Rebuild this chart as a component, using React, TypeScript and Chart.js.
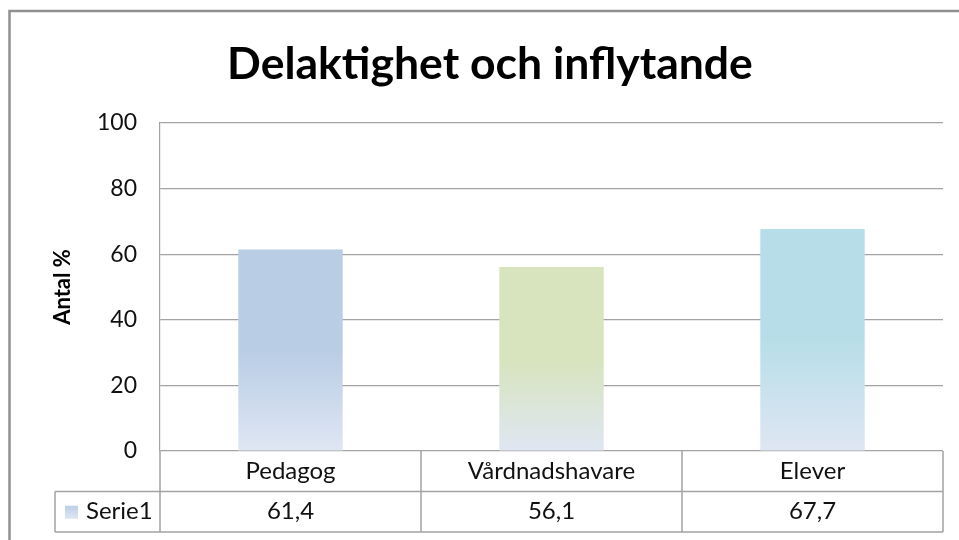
import React, { useEffect, useRef } from "react";
import { Chart, registerables } from "chart.js";

Chart.register(...registerables);

const TITLE = "Delaktighet och inflytande";
const Y_TITLE = "Antal %";
const SERIES_NAME = "Serie1";
const categories = ["Pedagog", "Vårdnadshavare", "Elever"];
const values = [61.4, 56.1, 67.7];
const yTicks = [0, 20, 40, 60, 80, 100];
const topColors = ["#B9CDE5", "#D7E4BD", "#B7DEE8"];
const bottomColor = "#DFE6F3";

const FONT = "Lato, 'Open Sans', sans-serif";
const GRID = "#a3a3a3";

const fmt = (v: number) => v.toFixed(1).replace(".", ",");

const tablePlugin = {
  id: "dataTable",
  beforeDraw(chart: any) {
    const ctx = chart.ctx;
    ctx.save();
    ctx.fillStyle = "#ffffff";
    ctx.fillRect(0, 0, chart.width, chart.height);
    ctx.strokeStyle = "#909090";
    ctx.lineWidth = 2.5;
    ctx.beginPath();
    ctx.moveTo(9.5, chart.height + 2);
    ctx.lineTo(9.5, 11);
    ctx.lineTo(chart.width + 2, 11);
    ctx.stroke();
    ctx.restore();
  },
  afterDraw(chart: any) {
    const ctx = chart.ctx;
    const area = chart.chartArea;
    const xs = chart.scales.x;
    const n = categories.length;
    const step = n > 1 ? xs.getPixelForValue(1) - xs.getPixelForValue(0) : area.right - area.left;
    const rowH = 40.5;
    const y0 = area.bottom;
    const y1 = y0 + rowH;
    const y2 = y1 + rowH;
    const legendLeft = 55;

    ctx.save();
    ctx.strokeStyle = GRID;
    ctx.lineWidth = 1.5;
    ctx.beginPath();
    ctx.moveTo(legendLeft, y1);
    ctx.lineTo(area.right, y1);
    ctx.moveTo(legendLeft, y2);
    ctx.lineTo(area.right, y2);
    ctx.moveTo(legendLeft, y1);
    ctx.lineTo(legendLeft, y2);
    ctx.moveTo(area.left, y0);
    ctx.lineTo(area.left, y2);
    for (let i = 0; i < n; i++) {
      const xr = xs.getPixelForValue(i) + step / 2;
      ctx.moveTo(xr, y0);
      ctx.lineTo(xr, y2);
    }
    ctx.stroke();

    ctx.fillStyle = "#111";
    ctx.font = `24px ${FONT}`;
    ctx.textAlign = "center";
    ctx.textBaseline = "middle";
    for (let i = 0; i < n; i++) {
      const cx = xs.getPixelForValue(i);
      ctx.fillText(categories[i], cx, (y0 + y1) / 2);
      ctx.fillText(fmt(values[i]), cx, (y1 + y2) / 2);
    }
    const ky = (y1 + y2) / 2;
    const g = ctx.createLinearGradient(0, ky - 7, 0, ky + 7);
    g.addColorStop(0, topColors[0]);
    g.addColorStop(1, bottomColor);
    ctx.fillStyle = g;
    ctx.fillRect(65, ky - 6, 13, 13);
    ctx.fillStyle = "#111";
    ctx.textAlign = "left";
    ctx.fillText(SERIES_NAME, 86, ky);
    ctx.restore();
  },
};

export default function App() {
  const ref = useRef<HTMLCanvasElement | null>(null);

  useEffect(() => {
    if (!ref.current) return;
    const chart = new Chart(ref.current, {
      type: "bar",
      data: {
        labels: categories,
        datasets: [
          {
            label: SERIES_NAME,
            data: values,
            categoryPercentage: 1,
            barPercentage: 0.4,
            borderWidth: 0,
            backgroundColor: (c: any) => {
              const chart = c.chart;
              const idx = c.dataIndex ?? 0;
              const col = topColors[idx % topColors.length];
              if (!chart.chartArea || c.raw == null) return col;
              const ys = chart.scales.y;
              const top = ys.getPixelForValue(c.raw);
              const base = ys.getPixelForValue(0);
              const g = chart.ctx.createLinearGradient(0, top, 0, base);
              g.addColorStop(0, col);
              g.addColorStop(0.5, col);
              g.addColorStop(1, bottomColor);
              return g;
            },
          },
        ],
      },
      options: {
        responsive: false,
        animation: false,
        devicePixelRatio: 1,
        layout: { padding: { left: 37, right: 16, top: 0, bottom: 89 } },
        plugins: {
          legend: { display: false },
          tooltip: { enabled: false },
          title: {
            display: true,
            text: TITLE,
            color: "#000",
            font: { family: FONT, size: 44.5, weight: "bold", lineHeight: 1.2 },
            padding: { top: 38.3, bottom: 31.3 },
          },
        },
        scales: {
          x: {
            display: false,
            offset: true,
          },
          y: {
            min: 0,
            max: 100,
            afterBuildTicks: (s: any) => {
              s.ticks = yTicks.map((v) => ({ value: v }));
            },
            afterFit: (s: any) => {
              s.width = 123;
            },
            ticks: {
              color: "#111",
              padding: 23,
              font: { family: FONT, size: 23 },
            },
            grid: { color: GRID, lineWidth: 1.2, drawTicks: false },
            border: { display: true, color: GRID, width: 1.2 },
            title: {
              display: true,
              text: Y_TITLE,
              color: "#000",
              font: { family: FONT, size: 22, weight: "bold", lineHeight: 1.2 },
              padding: { top: 13, bottom: 0 },
            },
          },
        },
      },
      plugins: [tablePlugin],
    });
    return () => chart.destroy();
  }, []);

  return (
    <div style={{ position: "absolute", left: 0, top: 0, width: 959, height: 540 }}>
      <canvas ref={ref} width={959} height={540} />
    </div>
  );
}
